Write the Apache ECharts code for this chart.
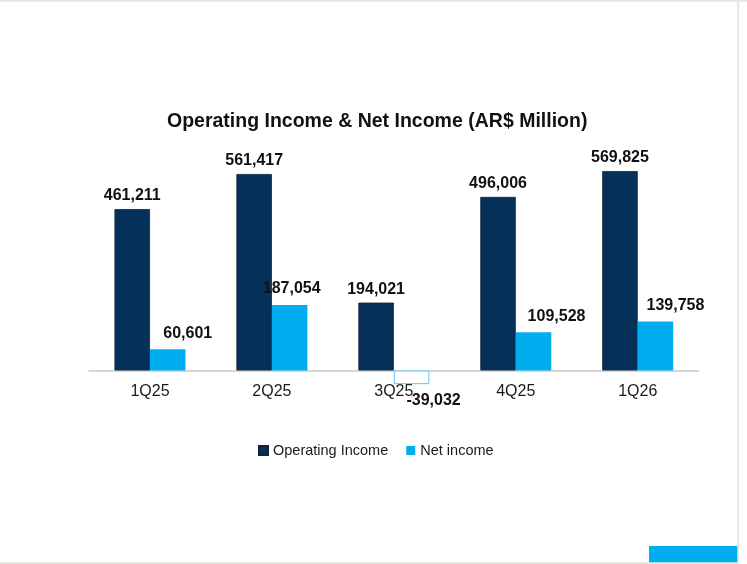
<!DOCTYPE html>
<html>
<head>
<meta charset="utf-8">
<title>Operating Income & Net Income</title>
<script src="https://cdn.jsdelivr.net/npm/echarts@6/dist/echarts.min.js"></script>
<style>
  html, body { margin: 0; padding: 0; background: #ffffff; }
  #chart { width: 747px; height: 564px; }
</style>
</head>
<body>
<div id="chart"></div>
<script>
// Quarterly results, AR$ million
const quarters = ['1Q25', '2Q25', '3Q25', '4Q25', '1Q26'];
const operatingIncome = [461211, 561417, 194021, 496006, 569825];
const netIncome = [60601, 187054, -39032, 109528, 139758];

// horizontal nudges for the net income value labels
const netLabelShift = [20, 2, 22, 23, 20];

const NAVY = '#04305a';
const SKY = '#00aeef';
const FONT = '"Liberation Sans", Arial, Helvetica, sans-serif';

const fmt = v => v.toLocaleString('en-US');

const netData = netIncome.map((v, i) => {
  if (v < 0) {
    return {
      value: v,
      itemStyle: { color: '#ffffff', borderColor: '#5cc6f0', borderWidth: 1 },
      label: { position: 'bottom', distance: 8, offset: [netLabelShift[i], 0] }
    };
  }
  return { value: v, label: { position: 'top', distance: 8, offset: [netLabelShift[i], 0] } };
});

const chart = echarts.init(document.getElementById('chart'), null, { renderer: 'canvas' });

chart.setOption({
  backgroundColor: '#ffffff',
  animation: false,
  title: {
    text: 'Operating Income & Net Income (AR$ Million)',
    left: 162,
    top: 107,
    textStyle: { fontFamily: FONT, fontSize: 19.5, fontWeight: 'bold', color: '#111111' }
  },
  legend: {
    data: ['Operating Income', 'Net income'],
    left: 253,
    top: 438,
    itemWidth: 9,
    itemHeight: 9,
    itemGap: 18,
    icon: 'rect',
    textStyle: { fontFamily: FONT, fontSize: 14.5, color: '#1a1a1a' }
  },
  grid: { left: 89, right: 48.3, top: 160.5, bottom: 158.5, containLabel: false },
  xAxis: {
    type: 'category',
    data: quarters,
    axisTick: { show: false },
    axisLine: { show: true, onZero: true, lineStyle: { color: '#c9c9c9', width: 1.5 } },
    axisLabel: {
      margin: -22,
      fontFamily: FONT, fontSize: 16, color: '#1a1a1a'
    },
    splitLine: { show: false }
  },
  yAxis: {
    type: 'value',
    min: -100000,
    max: 600000,
    show: false,
    splitLine: { show: false }
  },
  series: [
    {
      name: 'Operating Income',
      type: 'bar',
      data: operatingIncome,
      barWidth: 35.5,
      barGap: '0%',
      itemStyle: { color: NAVY, borderColor: '#13243a', borderWidth: 0.8 },
      label: {
        show: true,
        position: 'top',
        distance: 5,
        formatter: p => fmt(p.value),
        fontFamily: FONT, fontSize: 16, fontWeight: 'bold', color: '#111111'
      }
    },
    {
      name: 'Net income',
      type: 'bar',
      data: netData,
      barWidth: 35.5,
      barGap: '0%',
      itemStyle: { color: SKY },
      label: {
        show: true,
        formatter: p => fmt(p.value),
        fontFamily: FONT, fontSize: 16, fontWeight: 'bold', color: '#111111'
      }
    }
  ],
  graphic: [
    // slide frame and footer accent
    { type: 'rect', shape: { x: 0, y: 0, width: 747, height: 1.7 }, style: { fill: '#e5e5e0' }, silent: true },
    { type: 'rect', shape: { x: 737.3, y: 0, width: 1.7, height: 564 }, style: { fill: '#e5e5e0' }, silent: true },
    { type: 'rect', shape: { x: 0, y: 562.3, width: 739, height: 1.7 }, style: { fill: '#e5e5e0' }, silent: true },
    { type: 'rect', shape: { x: 649, y: 546, width: 88.3, height: 16.3 }, style: { fill: SKY }, silent: true }
  ]
});
</script>
</body>
</html>
